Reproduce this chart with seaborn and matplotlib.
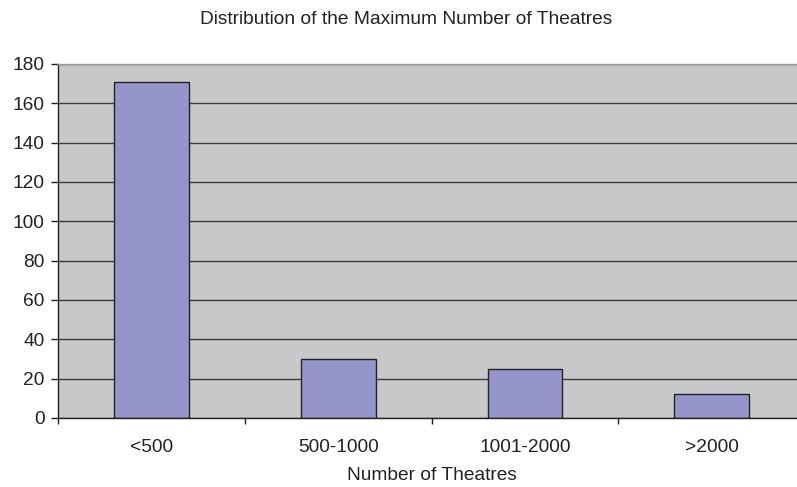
import matplotlib
matplotlib.use("Agg")
import matplotlib.pyplot as plt
from matplotlib.ticker import FixedLocator
import seaborn as sns

# Number of films by their maximum theatre count
categories = ["<500", "500-1000", "1001-2000", ">2000"]
counts = [171, 30, 25, 12]
y_ticks = [0, 20, 40, 60, 80, 100, 120, 140, 160, 180]

sns.set_theme(style="white")
plt.rcParams["font.family"] = ["Liberation Sans", "DejaVu Sans"]

fig = plt.figure(figsize=(7.97, 4.87), dpi=100)
ax = fig.add_axes([0.0733, 0.1417, 0.9368, 0.7269])
ax.set_facecolor("#C8C8CA")

sns.barplot(x=categories, y=counts, width=0.4, color="#9595C9", saturation=1,
            edgecolor="#222222", linewidth=1.0, ax=ax)

ax.set_xlim(-0.5, len(categories) - 0.5)
ax.set_ylim(0, 180)
ax.set_yticks(y_ticks)
ax.set_yticklabels([str(v) for v in y_ticks])
ax.yaxis.grid(True, color="#3a3a3a", linewidth=1.0)
ax.set_axisbelow(True)

for side in ["top", "right"]:
    ax.spines[side].set_color("#9a9a9a")
    ax.spines[side].set_linewidth(1.0)
for side in ["left", "bottom"]:
    ax.spines[side].set_color("#222222")
    ax.spines[side].set_linewidth(1.0)

# y ticks point out to the left; x ticks sit on category boundaries
ax.tick_params(axis="y", which="major", direction="out", length=5, width=1,
               color="#222222", left=True, pad=5, labelsize=13.8, labelcolor="#222222")
ax.tick_params(axis="x", which="major", length=0, pad=15, labelsize=13.8,
               labelcolor="#222222")
ax.xaxis.set_minor_locator(FixedLocator([i - 0.5 for i in range(len(categories) + 1)]))
ax.tick_params(axis="x", which="minor", direction="out", length=4, width=1,
               color="#222222", bottom=True)

ax.set_xlabel("Number of Theatres", fontsize=13.8, color="#222222", labelpad=8)
ax.set_ylabel("")

fig.text(0.509, 0.9507, "Distribution of the Maximum Number of Theatres",
         ha="center", va="baseline", fontsize=13.8, color="#222222")

fig.savefig("out.png", dpi=100)
